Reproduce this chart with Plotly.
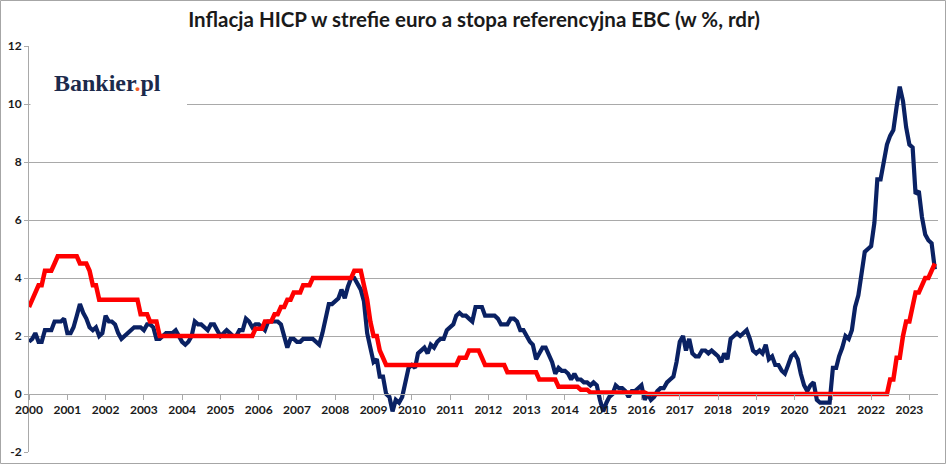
import pandas as pd
import plotly.graph_objects as go

# ---- data (monthly, Jan 2000 - Sep 2023) ----
start_month = "2000-01-01"

hicp = [
    1.8, 1.9, 2.1, 1.8, 1.8, 2.2, 2.2, 2.2, 2.5, 2.5, 2.5, 2.6,   # 2000
    2.1, 2.1, 2.3, 2.7, 3.1, 2.8, 2.6, 2.3, 2.2, 2.3, 2.0, 2.1,   # 2001
    2.7, 2.5, 2.5, 2.4, 2.1, 1.9, 2.0, 2.1, 2.2, 2.3, 2.3, 2.3,   # 2002
    2.2, 2.4, 2.4, 2.3, 1.9, 1.9, 2.0, 2.1, 2.1, 2.1, 2.2, 2.0,   # 2003
    1.8, 1.7, 1.8, 2.0, 2.5, 2.4, 2.4, 2.3, 2.2, 2.4, 2.4, 2.2,   # 2004
    2.0, 2.1, 2.2, 2.1, 2.0, 2.0, 2.2, 2.2, 2.6, 2.5, 2.3, 2.4,   # 2005
    2.4, 2.3, 2.2, 2.5, 2.5, 2.5, 2.5, 2.4, 2.0, 1.6, 1.9, 1.9,   # 2006
    1.8, 1.8, 1.9, 1.9, 1.9, 1.9, 1.8, 1.7, 2.1, 2.6, 3.1, 3.1,   # 2007
    3.2, 3.3, 3.6, 3.3, 3.7, 4.0, 4.0, 3.8, 3.6, 3.2, 2.1, 1.6,   # 2008
    1.1, 1.2, 0.6, 0.6, 0.0, -0.1, -0.6, -0.2, -0.3, -0.1, 0.5, 0.9,  # 2009
    1.0, 0.9, 1.4, 1.5, 1.6, 1.4, 1.7, 1.6, 1.8, 1.9, 1.9, 2.2,   # 2010
    2.3, 2.4, 2.7, 2.8, 2.7, 2.7, 2.6, 2.5, 3.0, 3.0, 3.0, 2.7,   # 2011
    2.7, 2.7, 2.7, 2.6, 2.4, 2.4, 2.4, 2.6, 2.6, 2.5, 2.2, 2.2,   # 2012
    2.0, 1.8, 1.7, 1.2, 1.4, 1.6, 1.6, 1.3, 1.1, 0.7, 0.9, 0.8,   # 2013
    0.8, 0.7, 0.5, 0.7, 0.5, 0.5, 0.4, 0.4, 0.3, 0.4, 0.3, -0.2,  # 2014
    -0.6, -0.3, -0.1, 0.0, 0.3, 0.2, 0.2, 0.1, -0.1, 0.1, 0.1, 0.2,  # 2015
    0.3, -0.2, 0.0, -0.2, -0.1, 0.1, 0.2, 0.2, 0.4, 0.5, 0.6, 1.1,  # 2016
    1.8, 2.0, 1.5, 1.9, 1.4, 1.3, 1.3, 1.5, 1.5, 1.4, 1.5, 1.4,   # 2017
    1.3, 1.1, 1.4, 1.2, 1.9, 2.0, 2.1, 2.0, 2.1, 2.2, 1.9, 1.5,   # 2018
    1.4, 1.5, 1.4, 1.7, 1.2, 1.3, 1.0, 1.0, 0.8, 0.7, 1.0, 1.3,   # 2019
    1.4, 1.2, 0.7, 0.3, 0.1, 0.3, 0.4, -0.2, -0.3, -0.3, -0.3, -0.3,  # 2020
    0.9, 0.9, 1.3, 1.6, 2.0, 1.9, 2.2, 3.0, 3.4, 4.1, 4.9, 5.0,   # 2021
    5.1, 5.9, 7.4, 7.4, 8.1, 8.6, 8.9, 9.1, 9.9, 10.6, 10.1, 9.2,  # 2022
    8.6, 8.5, 6.9, 7.0, 6.1, 5.5, 5.3, 5.2, 4.3,                  # 2023
]

ecb_rate = [
    3.0, 3.25, 3.5, 3.75, 3.75, 4.25, 4.25, 4.25, 4.5, 4.75, 4.75, 4.75,   # 2000
    4.75, 4.75, 4.75, 4.75, 4.5, 4.5, 4.5, 4.25, 3.75, 3.75, 3.25, 3.25,   # 2001
    3.25, 3.25, 3.25, 3.25, 3.25, 3.25, 3.25, 3.25, 3.25, 3.25, 3.25, 2.75,  # 2002
    2.75, 2.75, 2.5, 2.5, 2.5, 2.0, 2.0, 2.0, 2.0, 2.0, 2.0, 2.0,   # 2003
    2.0, 2.0, 2.0, 2.0, 2.0, 2.0, 2.0, 2.0, 2.0, 2.0, 2.0, 2.0,     # 2004
    2.0, 2.0, 2.0, 2.0, 2.0, 2.0, 2.0, 2.0, 2.0, 2.0, 2.0, 2.25,    # 2005
    2.25, 2.25, 2.5, 2.5, 2.5, 2.75, 2.75, 3.0, 3.0, 3.25, 3.25, 3.5,  # 2006
    3.5, 3.5, 3.75, 3.75, 3.75, 4.0, 4.0, 4.0, 4.0, 4.0, 4.0, 4.0,  # 2007
    4.0, 4.0, 4.0, 4.0, 4.0, 4.0, 4.25, 4.25, 4.25, 3.75, 3.25, 2.5,  # 2008
    2.0, 2.0, 1.5, 1.25, 1.0, 1.0, 1.0, 1.0, 1.0, 1.0, 1.0, 1.0,   # 2009
    1.0, 1.0, 1.0, 1.0, 1.0, 1.0, 1.0, 1.0, 1.0, 1.0, 1.0, 1.0,    # 2010
    1.0, 1.0, 1.0, 1.25, 1.25, 1.25, 1.5, 1.5, 1.5, 1.5, 1.25, 1.0,  # 2011
    1.0, 1.0, 1.0, 1.0, 1.0, 1.0, 0.75, 0.75, 0.75, 0.75, 0.75, 0.75,  # 2012
    0.75, 0.75, 0.75, 0.75, 0.5, 0.5, 0.5, 0.5, 0.5, 0.5, 0.25, 0.25,  # 2013
    0.25, 0.25, 0.25, 0.25, 0.25, 0.15, 0.15, 0.15, 0.05, 0.05, 0.05, 0.05,  # 2014
    0.05, 0.05, 0.05, 0.05, 0.05, 0.05, 0.05, 0.05, 0.05, 0.05, 0.05, 0.05,  # 2015
    0.05, 0.05, 0.0, 0.0, 0.0, 0.0, 0.0, 0.0, 0.0, 0.0, 0.0, 0.0,  # 2016
    0.0, 0.0, 0.0, 0.0, 0.0, 0.0, 0.0, 0.0, 0.0, 0.0, 0.0, 0.0,    # 2017
    0.0, 0.0, 0.0, 0.0, 0.0, 0.0, 0.0, 0.0, 0.0, 0.0, 0.0, 0.0,    # 2018
    0.0, 0.0, 0.0, 0.0, 0.0, 0.0, 0.0, 0.0, 0.0, 0.0, 0.0, 0.0,    # 2019
    0.0, 0.0, 0.0, 0.0, 0.0, 0.0, 0.0, 0.0, 0.0, 0.0, 0.0, 0.0,    # 2020
    0.0, 0.0, 0.0, 0.0, 0.0, 0.0, 0.0, 0.0, 0.0, 0.0, 0.0, 0.0,    # 2021
    0.0, 0.0, 0.0, 0.0, 0.0, 0.0, 0.5, 0.5, 1.25, 1.25, 2.0, 2.5,  # 2022
    2.5, 3.0, 3.5, 3.5, 3.75, 4.0, 4.0, 4.25, 4.5,                 # 2023
]

year_labels = [str(y) for y in range(2000, 2024)]
y_ticks = [-2, 0, 2, 4, 6, 8, 10, 12]

title_text = "Inflacja HICP w strefie euro a stopa referencyjna EBC (w %, rdr)"

# ---- figure ----
W, H = 948, 465
ML, MR, MT, MB = 29, 10, 46, 13
PW, PH = W - ML - MR, H - MT - MB

dates = pd.date_range(start_month, periods=len(hicp), freq="MS")


def px_x(px):
    return (px - ML) / PW


def px_y(py):
    return (H - MB - py) / PH


tick_font = dict(family="Lato", size=12, color="#1a1a1a", weight="bold")
grid_col = "#a9a9a9"

fig = go.Figure()
fig.add_trace(go.Scatter(x=dates, y=hicp, mode="lines", name="HICP",
                         line=dict(color="#0a2163", width=4.2)))
fig.add_trace(go.Scatter(x=dates, y=ecb_rate, mode="lines", name="Stopa EBC",
                         line=dict(color="#ff0000", width=4.5)))

fig.update_layout(
    width=W, height=H, autosize=False,
    margin=dict(l=ML, r=MR, t=MT, b=MB, pad=0),
    paper_bgcolor="white", plot_bgcolor="white",
    showlegend=False,
    title=dict(text="<b>" + title_text + "</b>", xref="container", x=0.5,
               xanchor="center", yref="container", y=1 - 20 / H, yanchor="middle",
               font=dict(family="Lato", size=20.5, color="#1a1a1a")),
    xaxis=dict(type="date", range=["2000-01-01", "2023-10-01"],
               anchor="free", position=2 / 14, automargin=False,
               showline=True, linecolor=grid_col, linewidth=1,
               ticks="outside", ticklen=5, tickcolor=grid_col,
               tickvals=[f"{y}-01-01" for y in year_labels], ticktext=year_labels,
               showgrid=False, zeroline=False, tickfont=tick_font),
    yaxis=dict(range=[-2, 12], tickvals=y_ticks, ticktext=[str(v) for v in y_ticks],
               automargin=False,
               showgrid=True, gridcolor=grid_col, gridwidth=1,
               showline=True, linecolor=grid_col, linewidth=1,
               ticks="outside", ticklen=4, tickcolor=grid_col,
               zeroline=False, tickfont=tick_font),
)

# white patch interrupting the 10 gridline behind the logo
fig.add_shape(type="rect", xref="paper", yref="y",
              x0=px_x(30.5), x1=px_x(187), y0=9.4, y1=10.6,
              fillcolor="white", line=dict(width=0), layer="above")

# logo text
fig.add_annotation(xref="paper", yref="paper", x=px_x(52), y=px_y(83),
                   xanchor="left", yanchor="middle", showarrow=False,
                   text="<b>Bankier<span style='color:#f05a28'>.</span>pl</b>",
                   font=dict(family="Liberation Serif", size=24, color="#1c2a4c"))

# outer chart border
fig.add_shape(type="rect", xref="paper", yref="paper",
              x0=px_x(0.5), x1=px_x(945.5), y0=px_y(463.5), y1=px_y(0.5),
              line=dict(color="#a6a6a6", width=1), fillcolor="rgba(0,0,0,0)",
              layer="above")

fig.write_html("out.html",
               config={"displayModeBar": False},
               post_script="document.body.style.margin='0';document.body.style.overflow='hidden';")
